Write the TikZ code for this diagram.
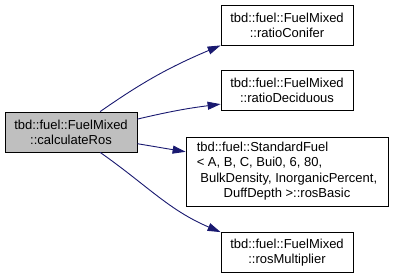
\documentclass[tikz,border=0pt]{standalone}
\usepackage{fontspec}
\setsansfont{Liberation Sans}
\usepackage{tikz}
\usetikzlibrary{arrows.meta}
\definecolor{edgeblue}{RGB}{25,25,112}
\definecolor{focusgray}{RGB}{191,191,191}
\tikzset{
  fnbox/.style={draw=black, fill=white, line width=0.8pt,
    minimum width=132pt, minimum height=40pt, inner sep=0pt,
    align=center, font=\sffamily\fontsize{13}{15}\selectfont},
  rootfn/.style={fnbox, fill=focusgray},
  call/.style={-{Triangle[length=13pt, width=8pt]}, edgeblue, line width=0.9pt},
}

\begin{document}
\begin{tikzpicture}[x=1pt, y=1pt]
  \useasboundingbox (0,0) rectangle (393,277);

  % caller
  \node[rootfn] (calc) at (71,145) {tbd::fuel::FuelMixed\\::calculateRos};

  % callees
  \node[fnbox] (conifer) at (287,252) {tbd::fuel::FuelMixed\\::ratioConifer};
  \node[fnbox] (deciduous) at (287,187) {tbd::fuel::FuelMixed\\::ratioDeciduous};
  \node[fnbox, minimum width=202pt, minimum height=69pt,
        font=\sffamily\fontsize{13}{15.5}\selectfont] (standard) at (287,105.5) {%
    \begin{tabular}{@{}l@{}}
      tbd::fuel::StandardFuel\\
      < A, B, C, Bui0, 6, 80,\\
      \ BulkDensity, InorganicPercent,\\
      \multicolumn{1}{@{}c@{}}{DuffDepth >::rosBasic}
    \end{tabular}};
  \node[fnbox] (rosmult) at (287,24.5) {tbd::fuel::FuelMixed\\::rosMultiplier};

  % Calls
  \draw[call] (calc) to[out=35, in=203] (conifer.south west);
  \draw[call] (calc.11) to[bend left=3] (deciduous.192);
  \draw[call] (calc.350) -- (standard.169);
  \draw[call] (calc) to[out=-35, in=157] (rosmult.north west);
\end{tikzpicture}
\end{document}
